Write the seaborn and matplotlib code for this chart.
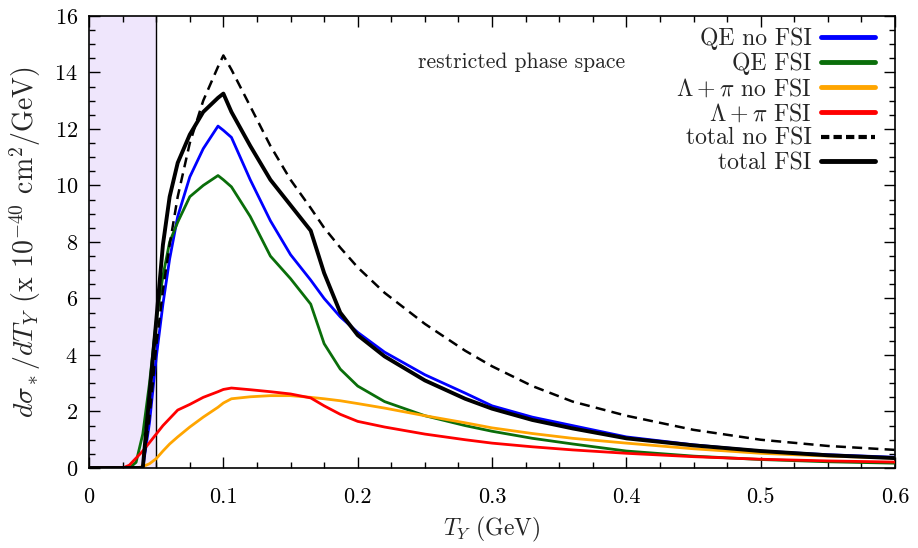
import matplotlib
matplotlib.use("Agg")
import numpy as np
import pandas as pd
import seaborn as sns
import matplotlib.pyplot as plt
from matplotlib.ticker import MultipleLocator

# kinetic energy grid (GeV)
t_y = [0, 0.025, 0.03, 0.035, 0.04, 0.045, 0.05, 0.055, 0.06, 0.066, 0.075, 0.085,
       0.096, 0.1, 0.106, 0.12, 0.135, 0.15, 0.165, 0.175, 0.187, 0.2, 0.22, 0.25,
       0.28, 0.3, 0.33, 0.36, 0.4, 0.45, 0.5, 0.55, 0.6]

qe_nofsi = [0, 0, 0, 0, 0, 1.6, 3.9, 5.8, 7.4, 8.9, 10.3, 11.3,
            12.1, 11.95, 11.7, 10.2, 8.75, 7.55, 6.65, 6.0, 5.35, 4.8, 4.1, 3.3,
            2.65, 2.2, 1.8, 1.5, 1.1, 0.82, 0.6, 0.47, 0.38]
qe_fsi = [0, 0, 0, 0.2, 1.2, 3.0, 5.2, 6.8, 8.0, 8.7, 9.6, 10.0,
          10.35, 10.2, 9.95, 8.9, 7.5, 6.7, 5.8, 4.4, 3.5, 2.9, 2.35, 1.85,
          1.5, 1.3, 1.05, 0.85, 0.6, 0.42, 0.3, 0.22, 0.17]
lpi_nofsi = [0, 0, 0, 0, 0.05, 0.15, 0.33, 0.6, 0.85, 1.1, 1.45, 1.8,
             2.15, 2.3, 2.45, 2.52, 2.56, 2.56, 2.5, 2.45, 2.38, 2.28, 2.12, 1.85,
             1.6, 1.42, 1.22, 1.05, 0.88, 0.68, 0.52, 0.42, 0.35]
lpi_fsi = [0, 0, 0.1, 0.35, 0.6, 0.9, 1.2, 1.5, 1.75, 2.05, 2.25, 2.5,
           2.7, 2.78, 2.83, 2.77, 2.7, 2.62, 2.48, 2.2, 1.9, 1.65, 1.45, 1.2,
           1.0, 0.88, 0.75, 0.64, 0.52, 0.4, 0.31, 0.25, 0.21]
total_nofsi = [0, 0, 0, 0, 0, 1.8, 4.3, 6.3, 7.9, 9.6, 11.5, 13.0,
               14.2, 14.6, 14.1, 12.8, 11.4, 10.2, 9.2, 8.5, 7.8, 7.1, 6.2, 5.1,
               4.15, 3.6, 2.9, 2.35, 1.85, 1.35, 1.0, 0.78, 0.64]
total_fsi = [0, 0, 0, 0, 0, 2.6, 5.2, 7.9, 9.6, 10.8, 11.8, 12.6,
             13.1, 13.25, 12.6, 11.4, 10.2, 9.3, 8.4, 6.9, 5.5, 4.7, 3.95, 3.1,
             2.45, 2.1, 1.7, 1.4, 1.05, 0.8, 0.6, 0.45, 0.35]

cut_low, cut_high = 0.0, 0.05

series = [
    ("QE no FSI", qe_nofsi, "#0000ff", "-", 2.0),
    ("QE FSI", qe_fsi, "#0a6e0a", "-", 2.0),
    (r"$\Lambda+\pi$ no FSI", lpi_nofsi, "#ffa500", "-", 2.0),
    (r"$\Lambda+\pi$ FSI", lpi_fsi, "#ff0000", "-", 2.0),
    ("total no FSI", total_nofsi, "black", (0, (4, 2.5)), 1.8),
    ("total FSI", total_fsi, "black", "-", 2.8),
]

sns.set_theme(style="ticks")
plt.rcParams["font.family"] = "serif"
plt.rcParams["font.serif"] = ["cmr10", "DejaVu Serif"]
plt.rcParams["mathtext.fontset"] = "cm"
plt.rcParams["axes.formatter.use_mathtext"] = True

fig = plt.figure(figsize=(9.18, 5.48), dpi=100)
ax = fig.add_axes([0.097, 0.146, 0.878, 0.825])

ax.axvspan(cut_low, cut_high, color="#efe6fc", zorder=0, lw=0)
ax.axvline(cut_high, color="black", lw=1.0, zorder=1)

for label, vals, col, ls, lw in series:
    df = pd.DataFrame({"T": t_y, "y": vals})
    sns.lineplot(data=df, x="T", y="y", ax=ax, color=col, linestyle=ls,
                 linewidth=lw, label=label, zorder=3)

ax.set_xlim(0, 0.6)
ax.set_ylim(0, 16)
ax.xaxis.set_major_locator(MultipleLocator(0.1))
ax.xaxis.set_minor_locator(MultipleLocator(0.025))
ax.yaxis.set_major_locator(MultipleLocator(2))
ax.yaxis.set_minor_locator(MultipleLocator(0.5))
ax.set_xticks([0, 0.1, 0.2, 0.3, 0.4, 0.5, 0.6])
ax.set_xticklabels(["0", "0.1", "0.2", "0.3", "0.4", "0.5", "0.6"])
ax.tick_params(which="both", direction="in", top=True, right=True,
               labelsize=16, width=1.0, colors="black")
ax.tick_params(which="major", length=8)
ax.tick_params(which="minor", length=4)
ax.tick_params(axis="x", pad=14)
ax.tick_params(axis="y", pad=8)
for sp in ax.spines.values():
    sp.set_linewidth(1.2)
    sp.set_color("black")

ax.set_xlabel(r"$T_Y$ (GeV)", fontsize=17, labelpad=6)
ax.set_ylabel(r"$d\sigma_*/dT_Y$ (x $10^{-40}$ cm$^2$/GeV)", fontsize=20,
              labelpad=8)

ax.text(0.3216, 14.37, "restricted phase space", fontsize=15.5, ha="center",
        va="center")

leg = ax.legend(loc="upper right", frameon=False, markerfirst=False,
                fontsize=17, handlelength=2.3, labelspacing=0.1,
                borderaxespad=0.1, handletextpad=0.4,
                bbox_to_anchor=(0.99, 1.0))
for line in leg.get_lines():
    if line.get_linestyle() == "-":
        line.set_linewidth(3.5)
    else:
        line.set_linewidth(3.0)
        line.set_dashes([2.0, 1.0])

fig.savefig("out.png", dpi=100)
